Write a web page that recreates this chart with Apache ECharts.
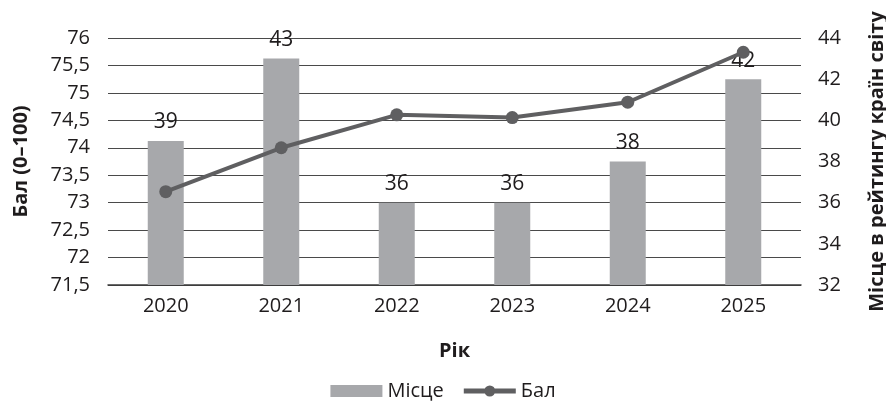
<!DOCTYPE html>
<html>
<head>
<meta charset="utf-8">
<script src="https://cdn.jsdelivr.net/npm/echarts@6/dist/echarts.min.js"></script>
<style>html,body{margin:0;padding:0;background:#fff}#c{width:886px;height:414px}</style>
</head>
<body>
<div id="c"></div>
<script>
const years = ['2020', '2021', '2022', '2023', '2024', '2025'];
const rank = [39, 43, 36, 36, 38, 42];
const score = [73.2, 74.0, 74.6, 74.55, 74.83, 75.74];
const leftTicks = { min: 71.5, max: 76, interval: 0.5 };
const rightTicks = { min: 32, max: 44, interval: 2 };

const FONT = '"Open Sans", sans-serif';
const TXT = '#1f1c1d';
const chart = echarts.init(document.getElementById('c'));
const comma = v => String(v).replace('.', ',');
chart.setOption({
  animation: false,
  textStyle: { fontFamily: FONT, color: TXT },
  grid: { left: 108, right: 85, top: 38, bottom: 129, containLabel: false, outerBoundsMode: 'none' },
  legend: {
    bottom: 8, left: 'center', itemWidth: 52, itemHeight: 12, itemGap: 20,
    textStyle: { fontSize: 20, color: TXT, fontFamily: FONT },
    data: [
      { name: 'Місце', icon: 'rect', itemStyle: { color: '#a7a8ab' } },
      { name: 'Бал', icon: 'path://M0,3.5L52,3.5L52,8.5L0,8.5Z M26,0.5A5.5,5.5 0 1,1 26,11.5A5.5,5.5 0 1,1 26,0.5Z',
        itemStyle: { color: '#5f5f61' } }
    ]
  },
  xAxis: {
    type: 'category', data: years,
    name: 'Рік', nameLocation: 'middle', nameGap: 56,
    nameTextStyle: { fontSize: 20, fontWeight: 'bold', color: TXT, fontFamily: FONT },
    axisLine: { show: true, lineStyle: { color: '#3a3a3a', width: 1.5 } },
    axisTick: { show: false },
    axisLabel: { fontSize: 20, color: TXT, margin: 11, fontFamily: FONT }
  },
  yAxis: [
    {
      type: 'value', position: 'left', min: leftTicks.min, max: leftTicks.max, interval: leftTicks.interval,
      name: 'Бал (0–100)', nameLocation: 'middle', nameGap: 77, nameRotate: 90,
      nameTextStyle: { fontSize: 20, fontWeight: 'bold', color: TXT, fontFamily: FONT },
      axisLine: { show: false }, axisTick: { show: false },
      axisLabel: { fontSize: 20, color: TXT, margin: 18, formatter: comma, fontFamily: FONT },
      splitLine: { show: true, lineStyle: { color: '#4a4a4a', width: 1.2 } }
    },
    {
      type: 'value', position: 'right', min: rightTicks.min, max: rightTicks.max, interval: rightTicks.interval,
      name: 'Місце в рейтингу країн світу', nameLocation: 'middle', nameGap: 66, nameRotate: 90,
      nameTextStyle: { fontSize: 20, fontWeight: 'bold', color: TXT, fontFamily: FONT },
      axisLine: { show: false }, axisTick: { show: false },
      axisLabel: { fontSize: 20, color: TXT, margin: 17, fontFamily: FONT },
      splitLine: { show: false }
    }
  ],
  series: [
    {
      name: 'Місце', type: 'bar', yAxisIndex: 1, data: rank, barWidth: 36,
      itemStyle: { color: '#a7a8ab' },
      label: { show: true, position: 'top', distance: 8, fontSize: 21, color: TXT, fontFamily: FONT }
    },
    {
      name: 'Бал', type: 'line', yAxisIndex: 0, data: score,
      symbol: 'circle', symbolSize: 13,
      lineStyle: { color: '#5f5f61', width: 4 },
      itemStyle: { color: '#5f5f61' },
      z: 5
    }
  ]
});
</script>
</body>
</html>
